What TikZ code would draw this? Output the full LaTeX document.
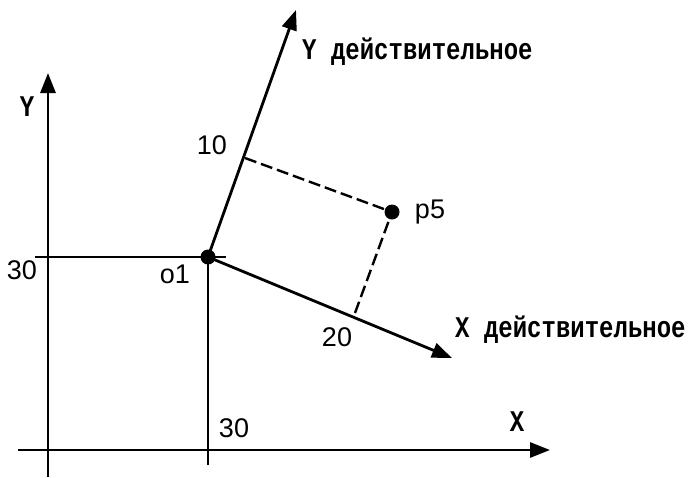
\documentclass[tikz,border=0pt]{standalone}
\usepackage{graphicx}
\usepackage{fontspec}
\setmainfont{Liberation Sans}
\newfontfamily\monof{Liberation Mono}
\usetikzlibrary{arrows.meta}
\newcommand{\tallmono}[1]{\scalebox{1}[1.25]{\monof\bfseries\fontsize{24}{24}\selectfont #1}}
\begin{document}
\begin{tikzpicture}[x=1pt,y=-1pt,
 axis/.style={line width=2.8pt},
 arr/.style={axis,-{Triangle[length=20pt,width=15pt]}},
 dsh/.style={line width=2.4pt,dash pattern=on 12pt off 5pt},
 dot/.style={circle,fill=black,inner sep=0pt,minimum size=15pt},
 num/.style={inner sep=0pt,font=\fontsize{27}{27}\selectfont},
 mono/.style={inner sep=0pt}]
\useasboundingbox (0,0) rectangle (692,477);
% fixed points
\coordinate (xs) at (18,450);
\coordinate (xe) at (550,450);
\coordinate (ys) at (48,477);
\coordinate (ye) at (48,73);
\coordinate (hs) at (35,257);
\coordinate (he) at (226,257);
\coordinate (vb) at (208,465);
\coordinate (yr) at (296,10);
\coordinate (xr) at (452,358);
\coordinate (t10) at (245,158);
\coordinate (t20) at (355,313);
% lines
\draw[arr] (xs) -- (xe);
\draw[arr] (ys) -- (ye);
\draw[axis] (hs) -- (he);
\node[dot] (o1) at (208,257) {};
\node[dot] (p5) at (392,212) {};
\draw[axis] (o1.center) -- (vb);
\draw[arr] (o1.center) -- (yr);
\draw[arr] (o1.center) -- (xr);
\draw[dsh] (t10) -- (p5.center);
\draw[dsh] (t20) -- (p5.center);
% labels
\node[mono] (ly) at (27,107) {\tallmono{Y}};
\node[mono] (lx) at (517,422) {\tallmono{X}};
\node[mono,anchor=west] (lyr) at (302,52) {\tallmono{Y действительное}};
\node[mono,anchor=west] (lxr) at (455,330) {\tallmono{X действительное}};
\node[num] (n10) at (212,145) {10};
\node[num] (n30a) at (22,270) {30};
\node[num] (n30b) at (234,428) {30};
\node[num] (n20) at (337,337) {20};
\node[num] (lo1) at (175,274) {o1};
\node[num] (lp5) at (430,212) {p5};
\end{tikzpicture}
\end{document}
